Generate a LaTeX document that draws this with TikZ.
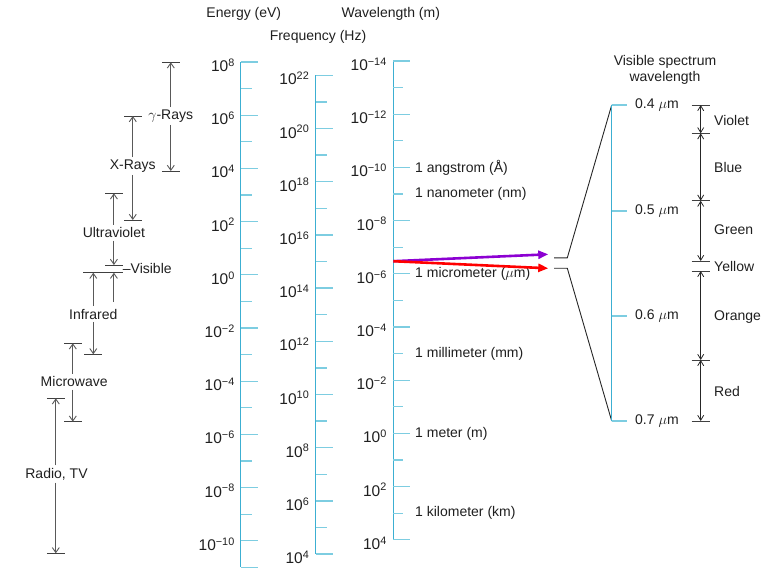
\documentclass[tikz,border=0pt]{standalone}
\usepackage{fontspec}
\setmainfont{Liberation Sans}
\usetikzlibrary{arrows.meta}

\definecolor{scaleblue}{RGB}{60,175,210}
\definecolor{tickblue}{RGB}{125,205,225}
\definecolor{vispurple}{RGB}{140,0,210}

\tikzset{
  txt/.style={font=\fontsize{14}{16}\selectfont, inner sep=0pt, text=black!88},
  ticklabel/.style={txt, font=\fontsize{15.5}{16}\selectfont, anchor=base east},
  scaleline/.style={scaleblue, line width=1.4pt},
  majortick/.style={tickblue, line width=1.3pt},
  minortick/.style={tickblue, line width=1.3pt},
  bandlabel/.style={txt, inner sep=2.5pt},
  band/.style={black!65, line width=0.9pt, -{Straight Barb[length=5pt,width=7pt]}},
  bar/.style={black!75, line width=1pt},
  twoway/.style={black!85, line width=0.8pt, {Straight Barb[length=5pt,width=6pt]}-{Straight Barb[length=5pt,width=6pt]}},
  fan/.style={black!85, line width=0.9pt},
}

\newcommand{\expo}[1]{\ifnum#1<0 −\number-#1\else#1\fi}

\begin{document}
\begin{tikzpicture}[x=1pt,y=-1pt]
\useasboundingbox (0,0) rectangle (763,570);

% Titles
\node[txt] (energy) at (243.8,14) {Energy (eV)};
\node[txt] (freq) at (318,36.7) {Frequency (Hz)};
\node[txt] (wave) at (390.8,14) {Wavelength (m)};

% Energy scale
\draw[scaleline] (240.7,62) coordinate (etop) -- (240.7,567.4) coordinate (ebot);
\foreach \k in {8,6,...,-10} {
  \draw[majortick] (240.7,{62+(8-\k)*26.6}) -- ++(17,0);
  \node[ticklabel] (e\k) at (235,{62+(8-\k)*26.6+9.5}) {10\textsuperscript{\expo{\k}}};
}
\foreach \k in {7,5,...,-9}
  \draw[minortick] (240.7,{62+(8-\k)*26.6}) -- ++(11,0);
\draw[majortick] (ebot) -- ++(17,0);

% Frequency scale
\draw[scaleline] (315.7,75.3) coordinate (ftop) -- (315.7,554.1) coordinate (fbot);
\foreach \k in {22,20,...,4} {
  \draw[majortick] (315.7,{75.3+(22-\k)*26.6}) -- ++(17,0);
  \node[ticklabel] (f\k) at (309.5,{75.3+(22-\k)*26.6+9.5}) {10\textsuperscript{\expo{\k}}};
}
\foreach \k in {21,19,...,5}
  \draw[minortick] (315.7,{75.3+(22-\k)*26.6}) -- ++(11,0);

% Wavelength scale
\draw[scaleline] (393.3,61) coordinate (wtop) -- (393.3,539.8) coordinate (wbot);
\foreach \k in {-14,-12,...,4} {
  \draw[majortick] (393.3,{61+(\k+14)*26.6}) -- ++(17,0);
  \node[ticklabel] (w\k) at (387,{61+(\k+14)*26.6+9.5}) {10\textsuperscript{\expo{\k}}};
}
\foreach \k in {-13,-11,...,3}
  \draw[minortick] (393.3,{61+(\k+14)*26.6}) -- ++(10,0);
\foreach \k/\unit in {-10/{1 angstrom (Å)}, -9/{1 nanometer (nm)}, -6/{1 micrometer ($\mu$m)},
                     -3/{1 millimeter (mm)}, 0/{1 meter (m)}, 3/{1 kilometer (km)}}
  \node[txt, anchor=west] (wl\k) at (415,{61+(\k+14)*26.6}) {\unit};

% Bands
\draw[bar] (161.8,62.3) -- coordinate (gtop) (179.8,62.3);
\draw[bar] (161.8,171) -- coordinate (gbot) (179.8,171);
\node[bandlabel] (gamma) at (170.8,116) {$\gamma$-Rays};
\draw[band] (gamma.north -| gtop) -- (gtop);
\draw[band] (gamma.south -| gbot) -- (gbot);

\draw[bar] (124,116) -- coordinate (xtop) (141.6,116);
\draw[bar] (124,220) -- coordinate (xbot) (141.6,220);
\node[bandlabel] (xray) at (132.8,166) {X-Rays};
\draw[band] (xray.north -| xtop) -- (xtop);
\draw[band] (xray.south -| xbot) -- (xbot);

\draw[bar] (105.1,193.3) -- coordinate (uvtop) (122.7,193.3);
\draw[bar] (105.1,265) -- coordinate (uvbot) (122.7,265);
\node[bandlabel] (uv) at (113.9,232.7) {Ultraviolet};
\draw[band] (uv.north -| uvtop) -- (uvtop);
\draw[band] (uv.south -| uvbot) -- (uvbot);

\draw[bar] (83.3,272.7) -- (122.7,272.7);
\coordinate (irtop) at (93.3,272.7);
\coordinate (visbot) at (113.9,272.7);
\coordinate (visfoot) at (113.9,302);
\node[txt, anchor=west] (visible) at (122.7,268.3) {–Visible};
\draw[band] (visfoot) -- (visbot);

\draw[bar] (84.3,354.3) -- coordinate (irbot) (102.3,354.3);
\node[bandlabel] (ir) at (93.3,314) {Infrared};
\draw[band] (ir.north -| irtop) -- (irtop);
\draw[band] (ir.south -| irbot) -- (irbot);

\draw[bar] (64,343.3) -- coordinate (mwtop) (81.6,343.3);
\draw[bar] (64,421.7) -- coordinate (mwbot) (81.6,421.7);
\node[bandlabel] (mw) at (74.2,381.7) {Microwave};
\draw[band] (mw.north -| mwtop) -- (mwtop);
\draw[band] (mw.south -| mwbot) -- (mwbot);

\draw[bar] (46.8,398.3) -- coordinate (rtop) (64.8,398.3);
\draw[bar] (46.8,553.3) -- coordinate (rbot) (64.8,553.3);
\node[bandlabel] (radio) at (56.5,474) {Radio, TV};
\draw[band] (radio.north -| rtop) -- (rtop);
\draw[band] (radio.south -| rbot) -- (rbot);

% Arrows to the visible spectrum
\coordinate (src) at (393.3,261.2);
\coordinate (vtip) at (548.3,254.3);
\coordinate (rtip) at (548.3,268.3);
\draw[vispurple, line width=2.6pt, -{Triangle[length=10pt,width=8pt]}] (src) -- (vtip);
\draw[red, line width=2.6pt, -{Triangle[length=10pt,width=8pt]}] (src) -- (rtip);

% Visible spectrum scale
\node[txt, align=center] (vistitle) at (665,69.7) {Visible spectrum\\wavelength};
\coordinate (vtop) at (611.7,105);
\coordinate (vbot) at (611.7,421);
\draw[fan] (554,257.8) -- (567.3,257.8) -- (vtop);
\draw[fan] (554,268.2) -- (567.3,268.2) -- (vbot);
\draw[scaleline] (vtop) -- (vbot);
\foreach \y/\lam in {105/0.4, 211/0.5, 316/0.6, 421/0.7} {
  \draw[majortick] (611.7,\y) -- ++(15.6,0);
  \node[txt, anchor=west] (lam\lam) at (635,\y) {\lam\ $\mu$m};
}

% Colours
\foreach \y/\b in {105/b1, 133.3/b2, 200.7/b3, 261/b4, 271/b5, 360/b6, 421/b7}
  \draw[bar] (691.7,\y) -- coordinate (\b) (709.7,\y);
\draw[twoway] (b1) -- (b2);
\draw[twoway] (b2) -- (b3);
\draw[twoway] (b3) -- (b4);
\draw[twoway] (b5) -- (b6);
\draw[twoway] (b6) -- (b7);
\foreach \y/\col in {120/Violet, 167.7/Blue, 230/Green, 266.7/Yellow, 316.7/Orange, 391/Red}
  \node[txt, anchor=west] (\col) at (714,\y) {\col};
\end{tikzpicture}
\end{document}
